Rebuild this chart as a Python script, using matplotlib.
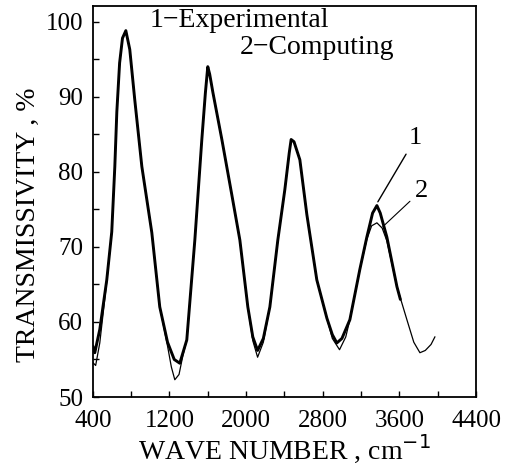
import matplotlib
matplotlib.use("Agg")
import matplotlib.pyplot as plt

# ---- data ----
exp_x = [400, 421, 473, 546, 598, 630, 651, 680, 710, 745, 786, 838, 912, 1016, 1099, 1180, 1250,
         1308, 1381, 1465, 1538, 1575, 1600, 1620, 1653, 1747, 1850, 1935, 2018, 2070, 2120, 2180,
         2248, 2331, 2404, 2450, 2470, 2500, 2561, 2634, 2738, 2843, 2900, 2947, 3000, 3083,
         3187, 3260, 3320, 3365, 3400, 3469, 3574, 3610]
exp_y = [56.8, 55.9, 59.0, 65.6, 72.0, 80.7, 88.0, 94.5, 97.8, 98.8, 96.3, 89.6, 80.7, 71.9, 62.0, 57.3, 55.0,
         54.5, 57.6, 70.9, 84.3, 90.5, 94.0, 93.0, 90.6, 84.3, 77.0, 70.9, 62.0, 58.0, 56.2, 57.8,
         62.0, 70.9, 77.6, 82.5, 84.3, 84.0, 81.6, 74.3, 65.6, 60.5, 58.3, 57.2, 57.8, 60.3,
         67.0, 71.3, 74.5, 75.5, 74.5, 71.3, 64.7, 63.0]

comp_x = [400, 430, 473, 546, 598, 630, 651, 680, 710, 745, 786, 838, 912, 1016, 1099, 1180, 1220,
          1256, 1300, 1340, 1381, 1465, 1538, 1575, 1600, 1620, 1653, 1747, 1850, 1935, 2018, 2070,
          2120, 2180, 2248, 2331, 2404, 2450, 2470, 2500, 2561, 2634, 2738, 2843, 2900, 2975,
          3040, 3083, 3187, 3260, 3310, 3365, 3420, 3469, 3574, 3678, 3750, 3814, 3870, 3930, 3970]
comp_y = [54.6, 54.2, 57.2, 65.4, 72.0, 80.7, 88.0, 94.5, 97.8, 98.8, 96.3, 89.6, 80.7, 71.9, 62.0, 56.8, 54.0,
          52.3, 53.0, 55.5, 57.6, 70.9, 84.3, 90.5, 93.8, 93.0, 90.6, 84.3, 77.0, 70.9, 62.0, 57.5,
          55.3, 57.3, 62.0, 70.9, 77.6, 82.5, 84.2, 84.0, 81.6, 74.3, 65.6, 60.5, 57.8, 56.3,
          58.0, 60.3, 67.0, 71.0, 72.8, 73.2, 72.5, 70.8, 64.7, 60.3, 57.3, 55.9, 56.2, 57.0, 58.0]

series_labels = ["1\u2212Experimental", "2\u2212Computing"]
x_ticks = [400, 1200, 2000, 2800, 3600, 4400]
y_ticks = [50, 60, 70, 80, 90, 100]

plt.rcParams['font.family'] = ['Liberation Serif', 'DejaVu Serif']

fig = plt.figure(figsize=(5.07, 4.69), dpi=100)
ax = fig.add_axes([0.183, 0.1535, 0.756, 0.834])

ax.plot(exp_x, exp_y, color='black', lw=2.1, solid_capstyle='round', solid_joinstyle='round')
ax.plot(comp_x, comp_y, color='black', lw=0.9, solid_joinstyle='round')

ax.set_xlim(400, 4400)
ax.set_ylim(50, 102.1)
ax.set_xticks(x_ticks)
ax.set_xticks(list(range(400, 4401, 400)), minor=True)
ax.set_yticks(y_ticks)
ax.set_yticks(list(range(50, 101, 5)), minor=True)
ax.tick_params(which='both', direction='in', length=4, width=1.0, labelsize=18)
ax.tick_params(axis='x', which='major', pad=9)
ax.tick_params(axis='y', which='major', pad=7)
for s in ax.spines.values():
    s.set_linewidth(1.3)

ax.set_xlabel("WAVE NUMBER , cm$^{-1}$", fontsize=20, labelpad=1)
ax.set_ylabel("TRANSMISSIVITY , %", fontsize=20)
ax.yaxis.set_label_coords(-0.135, 0.44)

ax.text(0.149, 0.963, series_labels[0], transform=ax.transAxes, fontsize=20,
        ha='left', va='center')
ax.text(0.384, 0.893, series_labels[1], transform=ax.transAxes, fontsize=20,
        ha='left', va='center')

ax.annotate("1", xy=(3375, 76), xytext=(3700, 84.5), fontsize=19, ha='left', va='center',
            arrowprops=dict(arrowstyle='-', color='black', lw=1.0, shrinkA=2, shrinkB=0))
ax.annotate("2", xy=(3428, 72.7), xytext=(3760, 77.5), fontsize=19, ha='left', va='center',
            arrowprops=dict(arrowstyle='-', color='black', lw=0.8, shrinkA=2, shrinkB=0))

fig.savefig("out.png", dpi=100)
